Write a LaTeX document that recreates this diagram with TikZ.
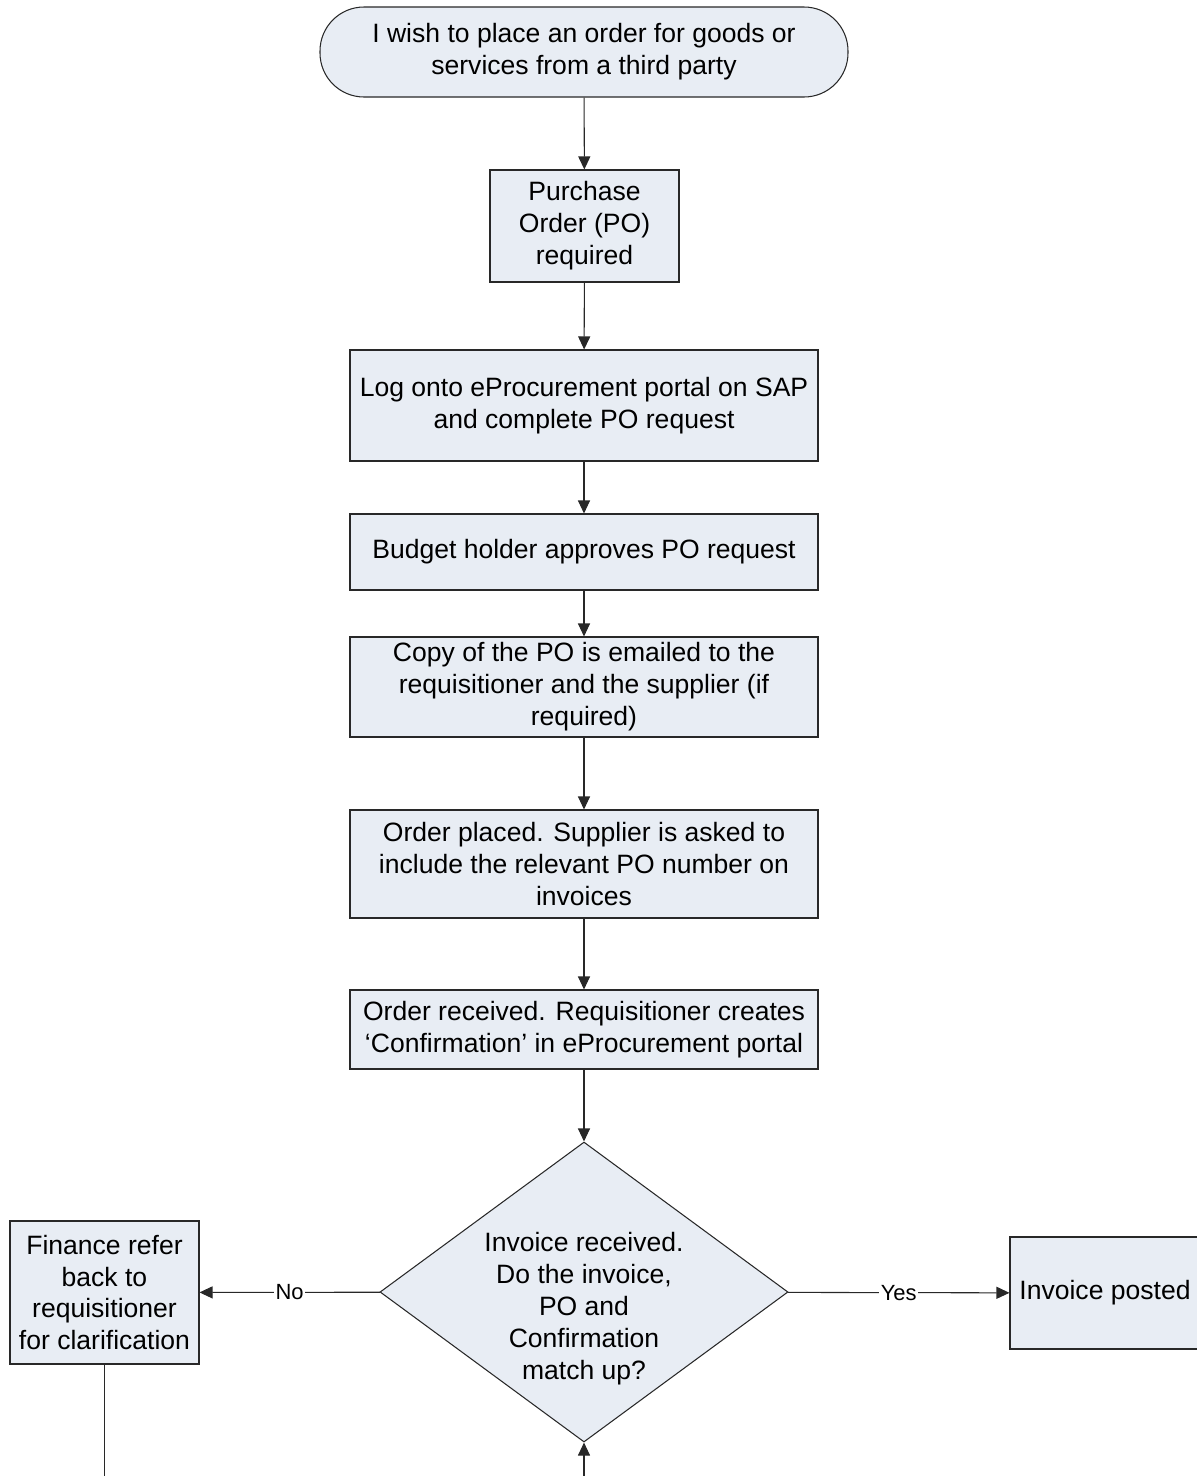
\documentclass[tikz,border=0pt]{standalone}
\usepackage{fontspec}
\setmainfont{Liberation Sans}
\usetikzlibrary{arrows.meta,shapes}
\definecolor{BoxFill}{RGB}{232,237,244}
\definecolor{LineColor}{RGB}{40,40,40}

\begin{document}
\begin{tikzpicture}[
    box/.style={draw=LineColor,fill=BoxFill,line width=0.6pt,align=center,inner sep=0pt,font=\fontsize{15.1}{18.2}\selectfont},
    flow/.style={-{Triangle[length=0.26cm,width=0.24cm]},line width=0.6pt,draw=LineColor},
    answer/.style={fill=white,inner sep=1pt,font=\fontsize{12.5}{14}\selectfont}
]
    \useasboundingbox (0,0) rectangle (23.94,-29.52);

    \node[box,rounded corners=0.88cm,minimum width=10.56cm,minimum height=1.8cm] (wish) at (11.68,-1.04) {I wish to place an order for goods or\\services from a third party};
    
    \node[box,minimum width=3.78cm,minimum height=2.24cm] (required) at (11.69,-4.52) {Purchase\\Order (PO)\\required};
    
    \node[box,minimum width=9.36cm,minimum height=2.22cm] (portal) at (11.68,-8.11) {Log onto eProcurement portal on SAP\\and complete PO request};
    
    \node[box,minimum width=9.36cm,minimum height=1.52cm] (approve) at (11.68,-11.04) {Budget holder approves PO request};
    
    \node[box,minimum width=9.36cm,minimum height=2.0cm] (emailed) at (11.68,-13.74) {Copy of the PO is emailed to the\\requisitioner and the supplier (if\\required)};
    
    \node[box,minimum width=9.36cm,minimum height=2.16cm] (placed) at (11.68,-17.28) {Order placed. Supplier is asked to\\include the relevant PO number on\\invoices};
    
    \node[box,minimum width=9.36cm,minimum height=1.58cm] (received) at (11.68,-20.59) {Order received. Requisitioner creates\\`Confirmation' in eProcurement portal};
    
    \node[box,diamond,minimum width=8.16cm,minimum height=6cm,
        label={[align=center,font=\fontsize{15.1}{18.2}\selectfont,yshift=-0.34cm]center:Invoice received.\\Do the invoice,\\PO and\\Confirmation\\match up?}] (match) at (11.68,-25.84) {};
    
    \node[box,minimum width=3.78cm,minimum height=2.86cm] (refer) at (2.09,-25.85) {Finance refer\\back to\\requisitioner\\for clarification};
    
    \node[box,minimum width=3.8cm,minimum height=2.24cm] (posted) at (22.1,-25.86) {Invoice posted};
    
    \coordinate (referEnd) at (2.09,-29.7);
    \coordinate (loopIn) at (11.68,-29.7);
    
    \draw[flow] (wish) to (required);
    \draw[flow] (required) to (portal);
    \draw[flow] (portal) to (approve);
    \draw[flow] (approve) to (emailed);
    \draw[flow] (emailed) to (placed);
    \draw[flow] (placed) to (received);
    \draw[flow] (received) to (match);
    \draw[flow] (match) to node[answer] {No} (refer);
    \draw[flow] (match) to node[answer] {Yes} (posted);
    \draw[line width=0.6pt,draw=LineColor] (refer) to (referEnd);
    \draw[flow] (loopIn) to (match);
    
\end{tikzpicture}
\end{document}
